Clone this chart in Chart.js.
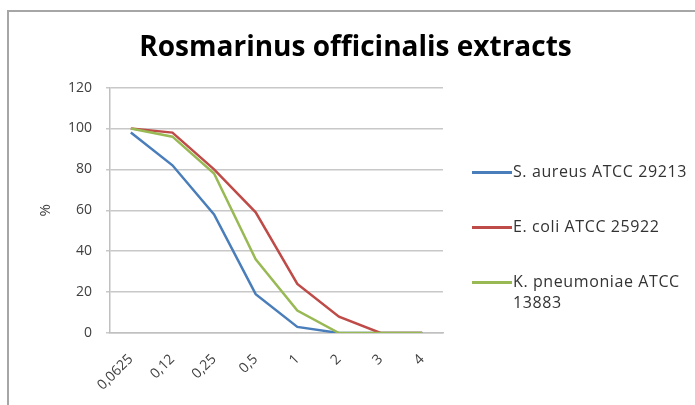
<!DOCTYPE html>
<html>
<head>
<meta charset="utf-8">
<script src="https://cdn.jsdelivr.net/npm/chart.js@4.4.0/dist/chart.umd.min.js"></script>
<style>
  body { margin: 0; background: #fff; }
  #wrap { position: relative; width: 695px; height: 405px; overflow: hidden; }
  #frame { position: absolute; left: 7px; top: 10px; width: 800px; height: 500px;
           border-left: 2px solid #a6a6a6; border-top: 2px solid #a6a6a6; }
  #chart { position: absolute; left: 0; top: 0; }
  .leg { position: absolute; left: 472px; font: 16px "Open Sans", sans-serif; color: #333; letter-spacing: 0.6px; }
  .leg .ln { position: absolute; left: 0; top: 10px; width: 40px; height: 3px; }
  .leg .tx { position: absolute; left: 41px; top: 0; width: 178px; line-height: 21px; white-space: normal; }
</style>
</head>
<body>
<div id="wrap">
  <div id="frame"></div>
  <canvas id="chart" width="695" height="405"></canvas>
</div>
<script>
const labels = ["0,0625", "0,12", "0,25", "0,5", "1", "2", "3", "4"];
const sAureus = [98, 82, 58, 19, 3, 0, 0, 0];
const eColi = [100, 98, 80, 59, 24, 8, 0, 0];
const kPneumoniae = [100, 96, 78, 36, 11, 0, 0, 0];
const seriesNames = ["S. aureus ATCC 29213", "E. coli ATCC 25922", "K. pneumoniae ATCC 13883"];
const seriesColors = ["#4a7ebb", "#be4b48", "#98b954"];

const data = {
  labels: labels,
  datasets: [sAureus, eColi, kPneumoniae].map(function (vals, i) {
    return {
      label: seriesNames[i],
      data: vals,
      borderColor: seriesColors[i],
      backgroundColor: seriesColors[i],
      borderWidth: 2.5,
      pointRadius: 0,
      tension: 0,
      fill: false,
      order: 3 - i   // last series on top, like excel
    };
  })
};

const config = {
  type: 'line',
  data,
  options: {
    responsive: false,
    animation: false,
    layout: { padding: { left: 16, right: 0, top: 11, bottom: 0 } },
    plugins: {
      legend: { display: false },
      tooltip: { enabled: false },
      title: {
        display: true,
        text: 'Rosmarinus officinalis extracts',
        color: '#000',
        font: { family: 'Open Sans', size: 28, weight: 'bold' },
        padding: { top: 20, bottom: 23 }
      }
    },
    scales: {
      x: {
        offset: true,
        grid: { display: false },
        border: { display: true, color: '#c0c0c0', width: 1.5 },
        ticks: {
          color: '#404040', minRotation: 45, maxRotation: 45, padding: 10,
          font: { family: 'Open Sans', size: 14 }
        },
        afterFit: function (s) { s.height = 72; }
      },
      y: {
        min: 0, max: 120,
        ticks: {
          stepSize: 20, color: '#404040', padding: 14,
          font: { family: 'Open Sans', size: 14 }
        },
        grid: { color: '#c8c8c8', lineWidth: 1.5, tickLength: 4 },
        border: { display: true, color: '#c0c0c0', width: 1.5 },
        title: {
          display: true, text: '%', color: '#404040',
          font: { family: 'Open Sans', size: 15 },
          padding: { top: 21, bottom: 0 }
        },
        afterFit: function (s) { s.width = 94; }
      },
      spacer: {
        position: 'right',
        display: true,
        grid: { display: false },
        border: { display: false },
        ticks: { display: false },
        afterFit: function (s) { s.width = 252; }
      }
    }
  }
};

const myChart = new Chart(document.getElementById('chart'), config);

// html legend on the right, built from the datasets
const legendTops = [161, 216, 271];
data.datasets.forEach(function (ds, i) {
  const item = document.createElement('div');
  item.className = 'leg';
  item.style.top = legendTops[i] + 'px';
  const ln = document.createElement('div');
  ln.className = 'ln';
  ln.style.background = ds.borderColor;
  const tx = document.createElement('div');
  tx.className = 'tx';
  tx.textContent = ds.label;
  item.appendChild(ln);
  item.appendChild(tx);
  document.getElementById('wrap').appendChild(item);
});
</script>
</body>
</html>
